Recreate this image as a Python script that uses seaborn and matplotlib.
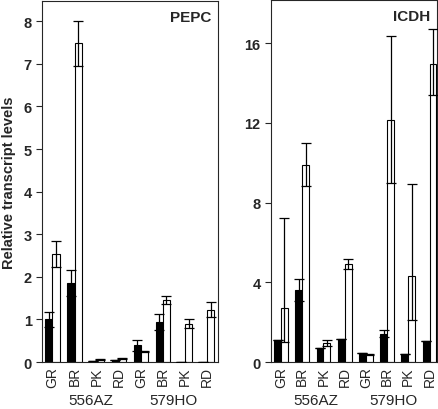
import seaborn as sns
import pandas as pd
import matplotlib
matplotlib.use("Agg")
import matplotlib.pyplot as plt

# data
stages = ["GR", "BR", "PK", "RD"]
cultivars = ["556AZ", "579HO"]
levels = ["filled", "open"]

pepc_filled = [1.0, 1.86, 0.02, 0.04, 0.39, 0.94, 0.01, 0.01]
pepc_filled_err = [0.17, 0.31, 0.0, 0.0, 0.12, 0.19, 0.0, 0.0]
pepc_open = [2.54, 7.48, 0.06, 0.09, 0.25, 1.45, 0.9, 1.23]
pepc_open_err = [0.3, 0.52, 0.01, 0.01, 0.02, 0.09, 0.1, 0.18]

icdh_filled = [1.08, 3.6, 0.7, 1.17, 0.45, 1.42, 0.4, 1.05]
icdh_filled_err = [0.0, 0.55, 0.0, 0.0, 0.0, 0.18, 0.0, 0.0]
icdh_open = [2.7, 9.9, 0.95, 4.9, 0.38, 12.15, 4.3, 14.95]
icdh_open_lo = [1.7, 1.05, 0.15, 0.25, 0.02, 3.15, 2.2, 1.55]
icdh_open_up = [4.55, 1.1, 0.15, 0.25, 0.02, 4.2, 4.65, 1.75]

samples = [f"{c} {s}" for c in cultivars for s in stages]

sns.set_style("ticks")
plt.rcParams["font.family"] = ["Liberation Sans", "DejaVu Sans"]


def make_df(filled, opened):
    return pd.DataFrame({
        "sample": samples * 2,
        "level": [levels[0]] * len(samples) + [levels[1]] * len(samples),
        "value": filled + opened,
    })


def draw_panel(ax, filled, opened, errs, ymax, yticks, title):
    df = make_df(filled, opened)
    sns.barplot(data=df, x="sample", y="value", hue="level", order=samples,
                hue_order=levels, palette=["black", "white"], width=0.65,
                edgecolor="black", linewidth=0.8, errorbar=None,
                legend=False, ax=ax)
    for cont, (lo, up) in zip(ax.containers, errs):
        xs = [p.get_x() + p.get_width() / 2 for p in cont.patches]
        hs = [p.get_height() for p in cont.patches]
        ax.errorbar(xs, hs, yerr=[lo, up], fmt="none", ecolor="black",
                    elinewidth=0.9, capsize=3.5, capthick=0.9, zorder=5)
    ax.set_ylim(0, ymax)
    ax.set_xlim(-0.47, 7.5)
    ax.set_yticks(yticks)
    ax.set_yticklabels([str(t) for t in yticks], fontweight="bold", fontsize=10.5)
    ax.set_xticks(range(len(samples)))
    ax.set_xticklabels(stages * 2, rotation=90, fontsize=10)
    ax.tick_params(axis="x", length=0, pad=3)
    ax.tick_params(axis="y", length=4, width=0.8)
    ax.set_xlabel("")
    ax.set_ylabel("")
    for sp in ax.spines.values():
        sp.set_visible(True)
        sp.set_linewidth(0.8)
    ax.text(0.96, 0.975, title, transform=ax.transAxes, ha="right", va="top",
            fontsize=11, fontweight="bold")


fig = plt.figure(figsize=(4.38, 4.10), dpi=100)
ax1 = fig.add_axes([0.096, 0.1146, 0.402, 0.880])
ax2 = fig.add_axes([0.6187, 0.1146, 0.378, 0.882])

draw_panel(ax1, pepc_filled, pepc_open,
           [(pepc_filled_err, pepc_filled_err), (pepc_open_err, pepc_open_err)],
           8.47, list(range(0, 9)), "PEPC")
draw_panel(ax2, icdh_filled, icdh_open,
           [(icdh_filled_err, icdh_filled_err), (icdh_open_lo, icdh_open_up)],
           18.15, [0, 4, 8, 12, 16], "ICDH")
ax2.set_xlim(-0.47, 7.33)

ax1.set_ylabel("Relative transcript levels", fontsize=10.5, fontweight="bold",
               labelpad=5)

for ax, pos in [(ax1, (1.75, 5.5)), (ax2, (1.65, 5.3))]:
    for c, xp in zip(cultivars, pos):
        ax.text(xp, -0.106, c, transform=ax.get_xaxis_transform(),
                ha="center", va="center", fontsize=11)

fig.savefig("out.png", dpi=100)
